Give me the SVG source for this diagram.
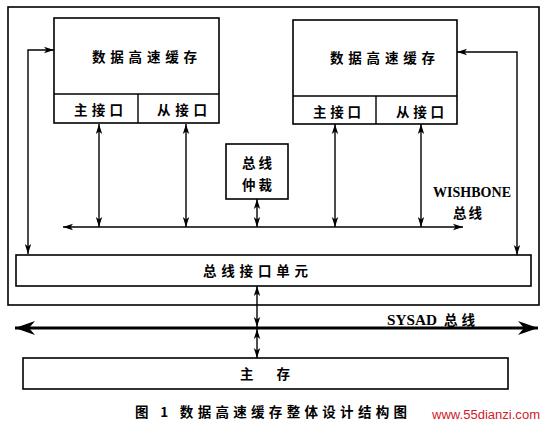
<svg xmlns="http://www.w3.org/2000/svg" width="547" height="430" viewBox="0 0 547 430">
<style>
.box{fill:#fff;stroke:#000;stroke-width:1.6}
.ln{fill:none;stroke:#000;stroke-width:1.4}
.t{font-family:"Noto Sans CJK SC","Liberation Sans",sans-serif;font-size:13.5px;fill:#000;font-weight:bold}
.e{font-family:"Liberation Serif","Noto Sans CJK SC",serif;font-size:14px;font-weight:bold;fill:#000}
</style>
<defs>
<marker id="a" viewBox="0 0 10 8" refX="10" refY="4" markerWidth="10" markerHeight="8" markerUnits="userSpaceOnUse" orient="auto-start-reverse">
<path d="M0,0.8 L10,4 L0,7.2 L2.5,4 z" fill="#000"/>
</marker>
<marker id="b" viewBox="0 0 20 14" refX="20" refY="7" markerWidth="20" markerHeight="14" markerUnits="userSpaceOnUse" orient="auto-start-reverse">
<path d="M0,0 L20,7 L0,14 L6,7 z" fill="#000"/>
</marker>
</defs>
<rect id="frame" x="8" y="7" width="531" height="298" fill="none" stroke="#000" stroke-width="1.6"/>
<g id="cache1">
<rect class="box" x="54" y="18" width="165" height="105"/>
<line class="ln" x1="54" y1="94" x2="219" y2="94"/>
<line class="ln" x1="138" y1="94" x2="138" y2="123"/>
<text class="t" x="92" y="62" textLength="105" lengthAdjust="spacing">数据高速缓存</text>
<text class="t" x="74" y="115" textLength="49" lengthAdjust="spacing">主接口</text>
<text class="t" x="157" y="115" textLength="50" lengthAdjust="spacing">从接口</text>
</g>
<g id="cache2">
<rect class="box" x="293" y="20" width="164" height="104"/>
<line class="ln" x1="293" y1="96" x2="457" y2="96"/>
<line class="ln" x1="376" y1="96" x2="376" y2="124"/>
<text class="t" x="330" y="63" textLength="105" lengthAdjust="spacing">数据高速缓存</text>
<text class="t" x="313" y="117" textLength="48" lengthAdjust="spacing">主接口</text>
<text class="t" x="396" y="117" textLength="48" lengthAdjust="spacing">从接口</text>
</g>
<g id="arbiter">
<rect class="box" x="226" y="144" width="62" height="55"/>
<text class="t" x="242" y="168" textLength="30" lengthAdjust="spacing">总线</text>
<text class="t" x="242" y="190" textLength="30" lengthAdjust="spacing">仲裁</text>
</g>
<g id="busif">
<rect class="box" x="16" y="255" width="515" height="31"/>
<text class="t" x="203" y="276" textLength="105" lengthAdjust="spacing">总线接口单元</text>
</g>
<g id="memory">
<rect class="box" x="23" y="358" width="485" height="31"/>
<text class="t" x="240" y="379" textLength="50" lengthAdjust="spacing">主 存</text>
</g>
<g id="labels">
<text class="e" x="433" y="197" textLength="78" lengthAdjust="spacingAndGlyphs">WISHBONE</text>
<text class="t" x="453" y="218" textLength="29" lengthAdjust="spacing">总线</text>
<text class="e" x="387" y="325" textLength="50" lengthAdjust="spacingAndGlyphs">SYSAD</text>
<text class="t" x="444" y="325" textLength="31" lengthAdjust="spacing">总线</text>
</g>
<g id="connectors">
<line class="ln" x1="63" y1="227" x2="463" y2="227" marker-start="url(#a)" marker-end="url(#a)"/>
<line class="ln" x1="99" y1="124" x2="99" y2="227" marker-start="url(#a)" marker-end="url(#a)"/>
<line class="ln" x1="186" y1="124" x2="186" y2="227" marker-start="url(#a)" marker-end="url(#a)"/>
<line class="ln" x1="257" y1="199" x2="257" y2="227" marker-start="url(#a)" marker-end="url(#a)"/>
<line class="ln" x1="335" y1="124" x2="335" y2="227" marker-start="url(#a)" marker-end="url(#a)"/>
<line class="ln" x1="421" y1="124" x2="421" y2="227" marker-start="url(#a)" marker-end="url(#a)"/>
<path class="ln" d="M28,254 L28,50 L54,50" marker-start="url(#a)" marker-end="url(#a)"/>
<path class="ln" d="M457,52 L517,52 L517,255" marker-start="url(#a)" marker-end="url(#a)"/>
<line x1="15" y1="328" x2="538" y2="328" stroke="#000" stroke-width="3" marker-start="url(#b)" marker-end="url(#b)"/>
<line class="ln" x1="257" y1="286" x2="257" y2="327" marker-start="url(#a)" marker-end="url(#a)"/>
<line class="ln" x1="257" y1="329" x2="257" y2="358" marker-start="url(#a)" marker-end="url(#a)"/>
</g>
<g id="caption">
<text class="t" x="135" y="417" font-size="14" textLength="272" lengthAdjust="spacing">图 1 数据高速缓存整体设计结构图</text>
<text x="432" y="419" font-family="Liberation Sans,sans-serif" font-size="12.5" fill="#d0202a" textLength="108" lengthAdjust="spacingAndGlyphs">www.55dianzi.com</text>
</g>
</svg>
